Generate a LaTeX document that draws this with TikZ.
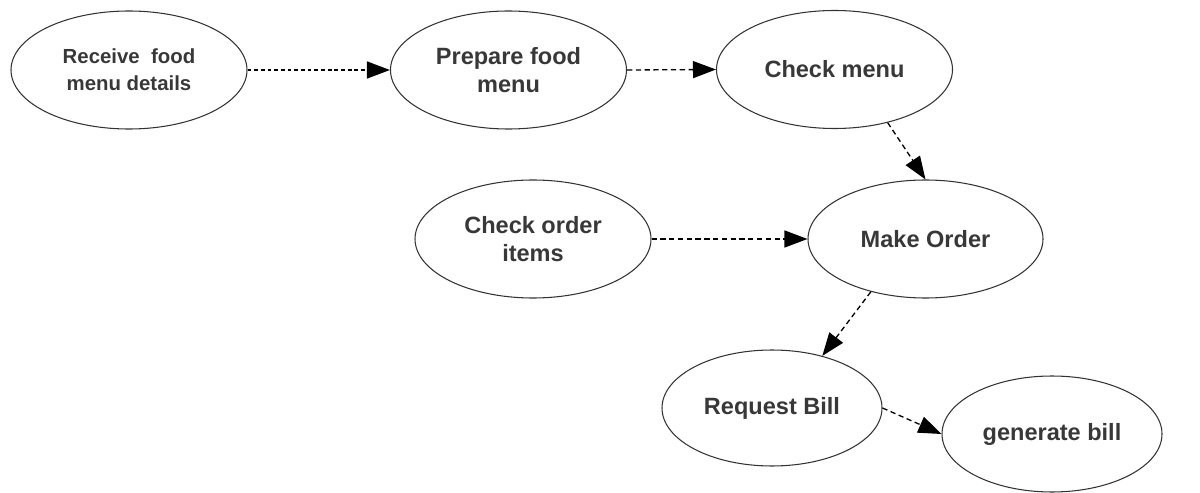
\documentclass[tikz,border=0pt]{standalone}
\usepackage{fontspec}
\setmainfont{Liberation Sans}
\usetikzlibrary{arrows.meta,shapes.geometric}

\begin{document}
\begin{tikzpicture}[x=0.02cm,y=-0.02cm,
  usecase/.style={ellipse,draw=black!80,line width=0.6pt,inner sep=0pt,
    minimum width=236*0.02cm,minimum height=118*0.02cm,
    align=center,font=\bfseries\fontsize{13.4}{16}\selectfont,text=black!78},
  flow/.style={draw=black,line width=0.75pt,dash pattern=on 3pt off 2pt,
    -{Triangle[length=0.46cm,width=0.34cm]}},
  fineflow/.style={flow,dash pattern=on 2.2pt off 1.6pt}]

  \useasboundingbox (0,0) rectangle (1200,493);

  % use cases
  \node[usecase,font=\bfseries\fontsize{11.6}{15.5}\selectfont] (receive) at (129,70) {Receive~ food\\menu details};
  \node[usecase] (prepare) at (508.5,70) {Prepare food\\menu};
  \node[usecase] (checkmenu) at (834.5,69.5) {Check menu};
  \node[usecase] (checkorder) at (533,239) {Check order\\items};
  \node[usecase,minimum width=235*0.02cm] (order) at (925.5,239) {Make Order};
  \node[usecase,minimum width=220*0.02cm,minimum height=116*0.02cm] (request) at (772,408) {Request Bill};
  \node[usecase,minimum width=220*0.02cm,minimum height=116*0.02cm] (bill) at (1052,434) {generate bill};

  % flows between use cases
  \draw[fineflow] (receive.east) -- (prepare.west);
  \draw[flow] (prepare.east) -- (checkmenu.west);
  \draw[flow] (checkmenu.-45) -- (order.north);
  \draw[flow] (checkorder.east) -- (order.west);
  \draw[flow] (order.-136) -- (request.46);
  \draw[flow] (request.east) -- (bill.west);
\end{tikzpicture}
\end{document}
